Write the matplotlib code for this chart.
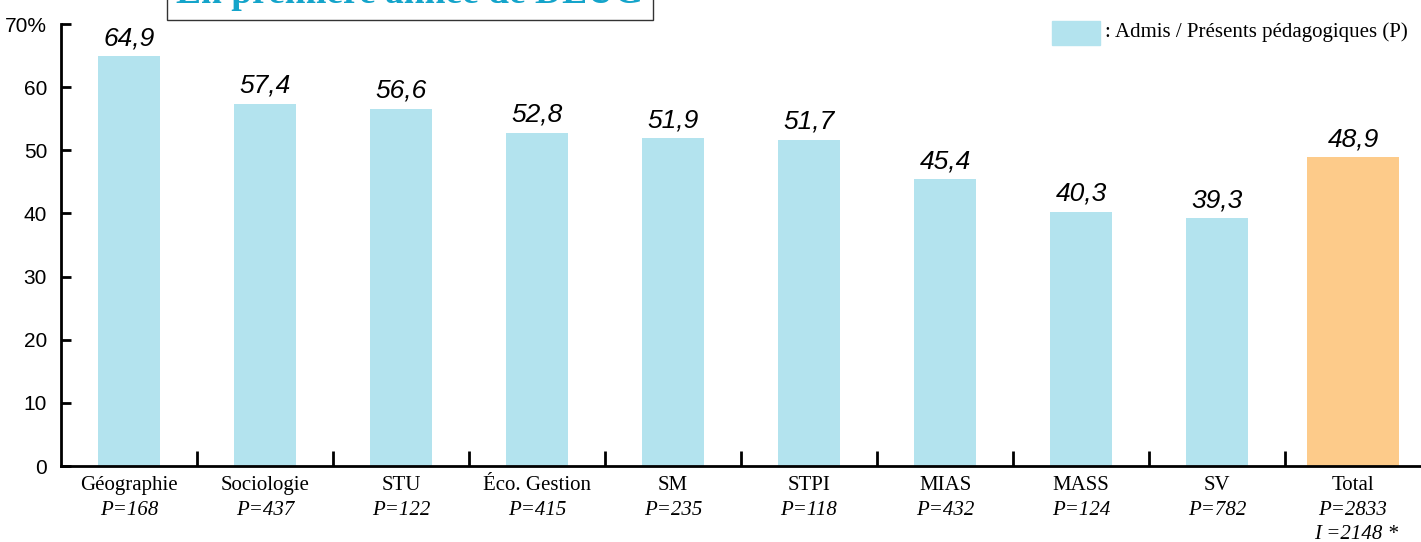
import numpy as np
import matplotlib.pyplot as plt

# data
categories = ['Géographie', 'Sociologie', 'STU', 'Éco. Gestion', 'SM', 'STPI', 'MIAS', 'MASS', 'SV', 'Total']
effectifs = ['P=168', 'P=437', 'P=122', 'P=415', 'P=235', 'P=118', 'P=432', 'P=124', 'P=782', 'P=2833']
rates = [64.9, 57.4, 56.6, 52.8, 51.9, 51.7, 45.4, 40.3, 39.3, 48.9]

blue = '#b3e3ee'
orange = '#fdcb8a'
serif = 'Liberation Serif'
sans = 'Liberation Sans'

fig = plt.figure(figsize=(14.21, 5.42), dpi=100)
ax = fig.add_axes([61 / 1421, 76 / 542, 1360 / 1421, 442 / 542])

x = np.arange(len(categories))
widths = [0.45] * (len(categories) - 1) + [0.68]
colors = [blue] * (len(categories) - 1) + [orange]
ax.bar(x, rates, width=widths, color=colors, zorder=2)

# value labels above bars
for xi, v in zip(x, rates):
    ax.text(xi, v + 0.9, f'{v:.1f}'.replace('.', ','), ha='center', va='bottom',
            fontsize=19, style='italic', family=sans)

ax.set_xlim(-0.5, len(categories) - 0.5)
ax.set_ylim(0, 70)

# y axis
ax.set_yticks(range(0, 71, 10))
ax.set_yticklabels([str(t) for t in range(0, 70, 10)] + ['70%'], family=sans, fontsize=15)
ax.tick_params(axis='y', direction='in', length=7, width=2, pad=10)

# x axis: ticks between categories, labels in serif below
ax.set_xticks(x[:-1] + 0.5)
ax.set_xticklabels([])
ax.tick_params(axis='x', direction='in', length=11, width=2)
for xi, cat, eff in zip(x, categories, effectifs):
    ax.text(xi, -1.6, cat, ha='center', va='top', fontsize=15, family=serif)
    ax.text(xi, -5.5, eff, ha='center', va='top', fontsize=15, family=serif,
            style='italic')
ax.text(x[-1] + 0.02, -9.4, 'I =2148 *', ha='center', va='top', fontsize=15,
        family=serif, style='italic')

for side in ['top', 'right']:
    ax.spines[side].set_visible(False)
ax.spines['left'].set_linewidth(2)
ax.spines['bottom'].set_linewidth(2)

# legend
fig.patches.append(plt.Rectangle((1052 / 1421, 1 - 45 / 542), 48 / 1421, 24 / 542,
                                 transform=fig.transFigure, color=blue))
fig.text(1105 / 1421, 1 - 32 / 542, ': Admis / Présents pédagogiques (P)', fontsize=15,
         family=serif, va='center', ha='left')

# title box (cut by the top of the picture)
fig.text(410 / 1421, 1 - 3 / 542, 'En première année de DEUG', ha='center', va='baseline',
         fontsize=27, fontweight='bold', family=serif, color='#14a4ca',
         bbox=dict(boxstyle='square,pad=0.25', facecolor='white', edgecolor='#333333', linewidth=1))

fig.savefig('out.png', dpi=100)
